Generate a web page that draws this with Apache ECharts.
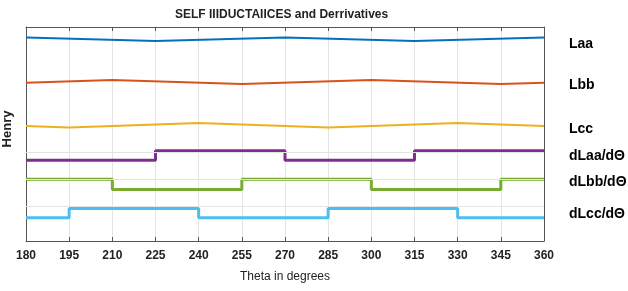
<!DOCTYPE html>
<html>
<head>
<meta charset="utf-8">
<script src="https://cdn.jsdelivr.net/npm/echarts@6/dist/echarts.min.js"></script>
<style>
  html, body { margin: 0; padding: 0; background: #fff; }
  #chart { width: 628px; height: 291px; }
</style>
</head>
<body>
<div id="chart"></div>
<script>
// theta ticks
const thetaTicks = [180, 195, 210, 225, 240, 255, 270, 285, 300, 315, 330, 345, 360];

// self inductances (arbitrary units)
const laaTheta = [180, 225, 270, 315, 360];
const laa = [5.24, 5.11, 5.24, 5.11, 5.24];
const lbbTheta = [180, 210, 255, 300, 345, 360];
const lbb = [3.56, 3.67, 3.52, 3.67, 3.52, 3.56];
const lccTheta = [180, 195, 240, 285, 330, 360];
const lcc = [1.96, 1.91, 2.07, 1.91, 2.07, 1.96];

// derivatives (step values, held until next theta)
const dLaaTheta = [180, 225, 270, 315, 360];
const dLaa = [0.69, 1.04, 0.69, 1.04, 1.04];
const dLbbTheta = [180, 210, 255, 300, 345, 360];
const dLbb = [-0.01, -0.39, -0.01, -0.39, -0.01, -0.01];
const dLccTheta = [180, 195, 240, 285, 330, 360];
const dLcc = [-1.44, -1.10, -1.44, -1.10, -1.44, -1.44];

// horizontal grid values
const yGrid = [-1, 0, 1];

const font = 'Liberation Sans, Arial, sans-serif';
const zip = (xs, ys) => xs.map((x, i) => [x, ys[i]]);

function lineSeries(name, xs, ys, color, width, step, dy) {
  return {
    name: name,
    type: 'line',
    data: zip(xs, ys),
    step: step,
    symbol: 'none',
    z: 3,
    lineStyle: { color: color, width: width },
    endLabel: {
      show: true,
      formatter: name,
      distance: 25,
      offset: [0, dy],
      color: '#000',
      fontFamily: font,
      fontWeight: 'bold',
      fontSize: 14
    }
  };
}

const chart = echarts.init(document.getElementById('chart'));
chart.setOption({
  animation: false,
  backgroundColor: '#fff',
  title: {
    text: 'SELF IIIDUCTAIICES and Derrivatives',
    left: 170,
    top: 4,
    textStyle: { fontFamily: font, fontSize: 12, fontWeight: 'bold', color: '#222' }
  },
  grid: { left: 26, right: 84, top: 27, bottom: 50, outerBoundsMode: 'none', containLabel: false },
  xAxis: [
    {
      type: 'value',
      min: 180,
      max: 360,
      interval: 15,
      name: 'Theta in degrees',
      nameLocation: 'middle',
      nameGap: 30,
      nameTextStyle: { fontFamily: font, fontSize: 12, color: '#222' },
      axisLine: { onZero: false, lineStyle: { color: '#555', width: 1 } },
      axisTick: { inside: true, length: 4, lineStyle: { color: '#555' } },
      axisLabel: { fontFamily: font, fontSize: 12, fontWeight: 'bold', color: '#222', margin: 9 },
      splitLine: { show: true, lineStyle: { color: '#e4e4e4', width: 1 } }
    },
    {
      type: 'value',
      position: 'top',
      min: 180,
      max: 360,
      interval: 15,
      axisLine: { show: true, onZero: false, lineStyle: { color: '#555', width: 1 } },
      axisTick: { inside: true, length: 4, lineStyle: { color: '#555' } },
      axisLabel: { show: false },
      splitLine: { show: false }
    }
  ],
  yAxis: [
    {
      type: 'value',
      min: -2.3,
      max: 5.63,
      name: 'Henry',
      nameLocation: 'middle',
      nameGap: 12,
      nameTextStyle: { fontFamily: font, fontSize: 13, fontWeight: 'bold', color: '#222', padding: [0, 0, 0, 10] },
      axisLine: { show: true, onZero: false, lineStyle: { color: '#555', width: 1 } },
      axisTick: { show: true, inside: true, length: 4, customValues: yGrid, lineStyle: { color: '#555' } },
      axisLabel: { show: false },
      splitLine: { show: false }
    },
    {
      type: 'value',
      position: 'right',
      min: -2.3,
      max: 5.63,
      axisLine: { show: true, onZero: false, lineStyle: { color: '#555', width: 1 } },
      axisTick: { show: true, inside: true, length: 4, customValues: yGrid, lineStyle: { color: '#555' } },
      axisLabel: { show: false },
      splitLine: { show: false }
    }
  ],
  series: [
    {
      type: 'line',
      data: [],
      z: 1,
      silent: true,
      markLine: {
        silent: true,
        symbol: 'none',
        label: { show: false },
        lineStyle: { color: '#e4e4e4', type: 'solid', width: 1 },
        data: yGrid.map(v => ({ yAxis: v }))
      }
    },
    lineSeries('Laa', laaTheta, laa, '#0072BD', 2, false, 6.5),
    lineSeries('Lbb', lbbTheta, lbb, '#D95319', 2, false, 2.7),
    lineSeries('Lcc', lccTheta, lcc, '#EDB120', 2, false, 3),
    lineSeries('dLaa/dΘ', dLaaTheta, dLaa, '#7E2F8E', 3, 'end', 5),
    lineSeries('dLbb/dΘ', dLbbTheta, dLbb, '#77AC30', 3, 'end', 2.7),
    lineSeries('dLcc/dΘ', dLccTheta, dLcc, '#4DBEEE', 3, 'end', -4)
  ]
});
</script>
</body>
</html>
